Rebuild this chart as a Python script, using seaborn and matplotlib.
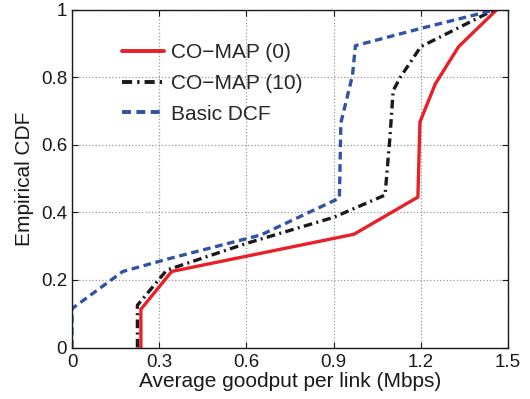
import matplotlib
matplotlib.use("Agg")
import matplotlib.pyplot as plt
import seaborn as sns
import pandas as pd

# Data
red_x = [0.237, 0.237, 0.343, 0.97, 1.19, 1.197, 1.25, 1.33, 1.462]
red_y = [0.0, 0.113, 0.225, 0.335, 0.445, 0.667, 0.78, 0.89, 1.0]

black_x = [0.225, 0.225, 0.326, 0.6, 0.9, 1.077, 1.094, 1.105, 1.13, 1.2, 1.455]
black_y = [0.0, 0.125, 0.229, 0.308, 0.385, 0.451, 0.624, 0.76, 0.80, 0.89, 1.0]

blue_x = [0.0, 0.0, 0.175, 0.33, 0.65, 0.92, 0.925, 0.965, 0.975, 1.2, 1.46]
blue_y = [0.0, 0.115, 0.225, 0.262, 0.333, 0.442, 0.665, 0.805, 0.893, 0.944, 1.0]

series_names = ["CO\u2212MAP (0)", "CO\u2212MAP (10)", "Basic DCF"]
x_ticks = [0, 0.3, 0.6, 0.9, 1.2, 1.5]
x_tick_labels = ["0", "0.3", "0.6", "0.9", "1.2", "1.5"]
y_ticks = [0, 0.2, 0.4, 0.6, 0.8, 1.0]
y_tick_labels = ["0", "0.2", "0.4", "0.6", "0.8", "1"]

frames = []
for name, xs, ys in zip(series_names, [red_x, black_x, blue_x], [red_y, black_y, blue_y]):
    frames.append(pd.DataFrame({"x": xs, "y": ys, "series": name}))
df = pd.concat(frames, ignore_index=True)

sns.set_theme(style="white")
plt.rcParams["font.family"] = ["Liberation Sans", "DejaVu Sans"]

fig = plt.figure(figsize=(5.3, 3.99), dpi=100)
ax = fig.add_axes([72 / 530, 1 - 347.5 / 399, 436 / 530, 338 / 399])

palette = {series_names[0]: "#E8202A", series_names[1]: "#1a1a1a", series_names[2]: "#3153A5"}
dashes = {series_names[0]: "", series_names[1]: (2.6, 1.3, 0.6, 1.3), series_names[2]: (2.3, 1.4)}

sns.lineplot(data=df, x="x", y="y", hue="series", style="series", palette=palette,
             dashes=dashes, sort=False, estimator=None, units="series",
             linewidth=2.4, ax=ax, legend=True, hue_order=series_names, style_order=series_names)

ax.set_xlim(0, 1.5)
ax.set_ylim(0, 1)
ax.set_xticks(x_ticks)
ax.set_xticklabels(x_tick_labels)
ax.set_yticks(y_ticks)
ax.set_yticklabels(y_tick_labels)
ax.grid(True, linestyle=":", color="#999999", linewidth=0.9)
ax.tick_params(direction="in", length=4, width=0.8, top=True, right=True,
               labelsize=13.5, colors="#1a1a1a", bottom=True, left=True)
ax.tick_params(axis="x", pad=4.5)
ax.tick_params(axis="y", pad=3.5)
for s in ax.spines.values():
    s.set_color("#1a1a1a")
    s.set_linewidth(1.0)
ax.set_xlabel("Average goodput per link (Mbps)", fontsize=15, color="#1a1a1a", labelpad=1)
ax.set_ylabel("Empirical CDF", fontsize=15, color="#1a1a1a", labelpad=5)

leg = ax.legend(loc="upper left", bbox_to_anchor=(0.115, 0.9), frameon=False,
                fontsize=15, handlelength=2.0, handletextpad=0.35, labelspacing=0.56,
                borderpad=0, borderaxespad=0)
for line in leg.get_lines():
    line.set_linewidth(2.8)

fig.savefig("out.png", dpi=100)
